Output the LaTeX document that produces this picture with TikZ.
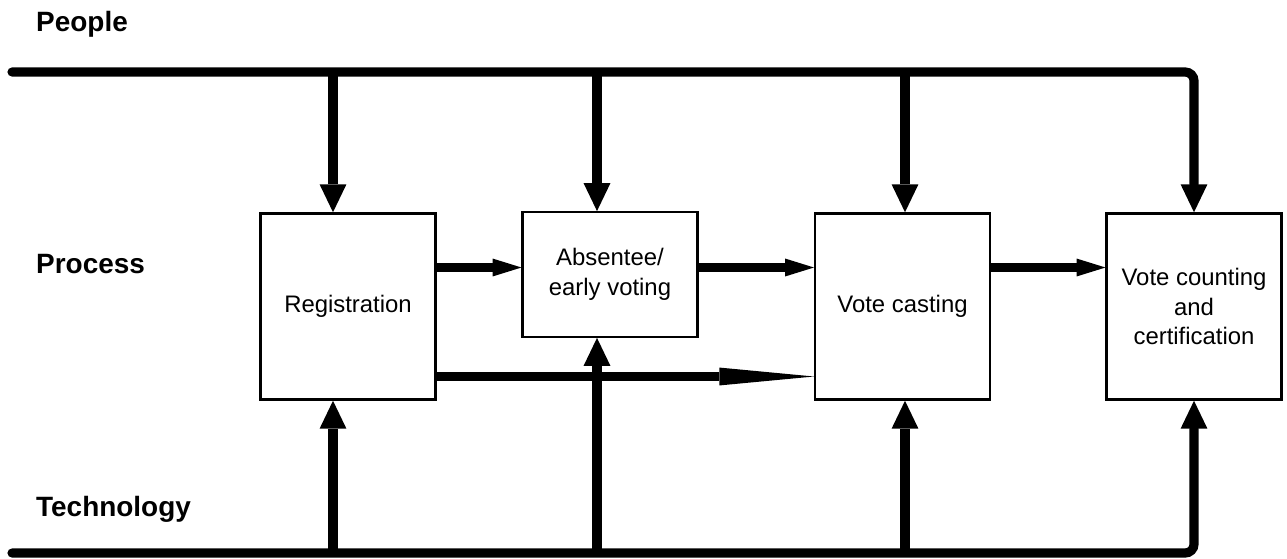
\documentclass[tikz,border=0pt]{standalone}
\usepackage{fontspec}
\setmainfont{Liberation Sans}
\usetikzlibrary{arrows.meta}

\tikzset{
  stage/.style={draw,line width=1.3pt,align=center,inner sep=0pt,
    minimum width=99.5pt,minimum height=106pt,
    font=\fontsize{13.6}{17}\selectfont},
  lane/.style={anchor=west,font=\fontsize{15.9}{18}\selectfont\bfseries},
  bus/.style={line width=5.2pt},
  feed/.style={bus,-{Triangle[width=15.3pt,length=15.9pt,line width=0pt]}},
  flow/.style={bus,-{Triangle[width=10.2pt,length=16.4pt,line width=0pt]}},
  bypass/.style={bus,-{Triangle[width=10.2pt,length=53.9pt,line width=0pt]}},
}

\begin{document}
\begin{tikzpicture}[x=0.02cm,y=-0.02cm]
\useasboundingbox (0,0) rectangle (1287,558);

% lanes
\node[lane] (people) at (30,24) {People};
\node[lane] (process) at (30,264) {Process};
\node[lane] (tech) at (30,509) {Technology};

% stages
\node[stage] (reg) at (348,306.5) {Registration};
\node[stage,minimum height=70.9pt] (abs) at (610,274.5) {Absentee/\\early voting};
\node[stage] (cast) at (902.5,306.5) {Vote casting};
\node[stage] (count) at (1194,306.5) {Vote counting\\and\\certification};

% people and technology buses
\draw[feed,line cap=round,rounded corners=5] (12,72) -- (1194,72) -- (count.north);
\draw[feed,line cap=round,rounded corners=5] (12,553) -- (1194,553) -- (count.south);
\foreach \x/\n in {333/reg,597/abs,905/cast} {
  \draw[feed] (\x,72) -- (\x,0 |- \n.north);
  \draw[feed] (\x,553) -- (\x,0 |- \n.south);
}

% process flow
\coordinate (hi) at (0,267.5);
\coordinate (lo) at (0,376.5);
\draw[flow] (reg.east |- hi) -- (abs.west |- hi);
\draw[flow] (abs.east |- hi) -- (cast.west |- hi);
\draw[flow] (cast.east |- hi) -- (count.west |- hi);
\draw[bypass] (reg.east |- lo) -- (cast.west |- lo);
\end{tikzpicture}
\end{document}
